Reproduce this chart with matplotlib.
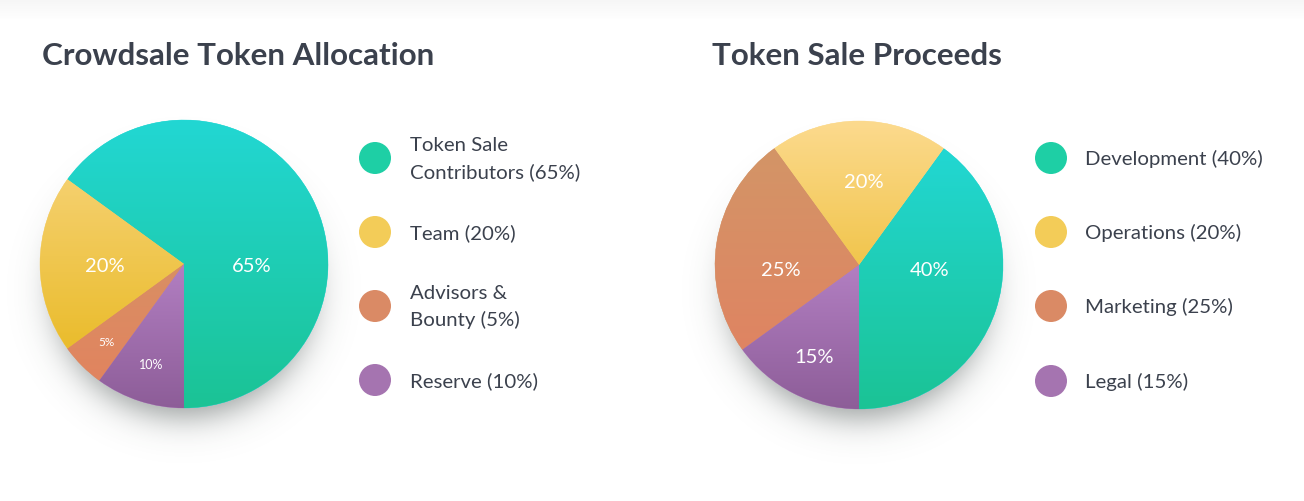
import matplotlib.pyplot as plt
import numpy as np
from matplotlib.colors import to_rgb
from matplotlib.patches import Circle

W, H = 1304, 502
TEXT = "#3b414d"
plt.rcParams["font.family"] = ["Lato", "DejaVu Sans"]

# data
alloc_title = "Crowdsale Token Allocation"
alloc_labels = ["Token Sale\nContributors", "Team", "Advisors &\nBounty", "Reserve"]
alloc_share = [65, 20, 5, 10]

proceeds_title = "Token Sale Proceeds"
proceeds_labels = ["Development", "Operations", "Marketing", "Legal"]
proceeds_share = [40, 20, 25, 15]

# styles: (top, bottom) gradient for each wedge, legend dot colours
LEGEND_COLORS = ["#1ecfa5", "#f3cc58", "#da8a65", "#a574b0"]
alloc_grad = [("#22d7d3", "#1bc395"), ("#f5d06e", "#eabc2c"),
              ("#d98f64", "#e1845f"), ("#b27fc2", "#8d5d98")]
proceeds_grad = [("#22d7d3", "#1bc395"), ("#fcda8e", "#f1c54c"),
                 ("#d39567", "#df8462"), ("#b27fc2", "#8d5d98")]
alloc_pct_pos = [(0.47, 0.0), (-0.55, 0.0), (-0.54, -0.53), (-0.23, -0.69)]
alloc_pct_size = [14.5, 14.5, 8.5, 9]
proceeds_pct_pos = [(0.49, -0.02), (0.03, 0.59), (-0.54, -0.02), (-0.31, -0.625)]
proceeds_pct_size = [14.5, 14.5, 14.5, 14.5]


def shadow(ax):
    g = np.linspace(-1.4, 1.4, 400)
    xx, yy = np.meshgrid(g, g)
    d = np.hypot(xx / 0.97, (yy + 0.18) / 0.95)
    a = 0.5 / (1 + np.exp((d - 0.93) / 0.07))
    img = np.zeros((400, 400, 4))
    img[..., :3] = to_rgb("#37413f")
    img[..., 3] = a
    ax.imshow(img, extent=[-1.4, 1.4, -1.4, 1.4], origin="lower", zorder=0)


def draw_pie(cx, cy, R, values, grads, pct_pos, pct_size):
    ax = fig.add_axes([(cx - 1.4 * R) / W, (H - cy - 1.4 * R) / H, 2.8 * R / W, 2.8 * R / H])
    wedges, _ = ax.pie(values, startangle=-90, counterclock=True, radius=1,
                       wedgeprops=dict(linewidth=0))
    ax.axis("off")
    shadow(ax)
    for w, (top, bot) in zip(wedges, grads):
        t = np.radians(np.linspace(w.theta1, w.theta2, 100))
        ys = np.concatenate([[0], np.sin(t)])
        y0, y1 = ys.min(), ys.max()
        c0, c1 = np.array(to_rgb(bot)), np.array(to_rgb(top))
        f = np.linspace(0, 1, 256)[:, None]
        grad = (c0 + (c1 - c0) * f)[:, None, :].repeat(2, axis=1)
        w.set_facecolor(top)
        w.set_edgecolor(top)
        w.set_linewidth(0.3)
        w.set_zorder(1)
        im = ax.imshow(grad, extent=[-1, 1, y0, y1], origin="lower", aspect="auto", zorder=2)
        im.set_clip_path(w)
    ax.set_xlim(-1.4, 1.4)
    ax.set_ylim(-1.4, 1.4)
    for v, (px, py), fs in zip(values, pct_pos, pct_size):
        ax.text(px, py, f"{v}%", color="white", fontsize=fs, ha="center",
                va="center_baseline", zorder=3)
    return ax


def legend(x_dot, x_txt, ys, labels, values):
    for y, lab, v, c in zip(ys, labels, values, LEGEND_COLORS):
        bg.add_patch(Circle((x_dot, y), 16, color=c, lw=0))
        bg.text(x_txt, y, f"{lab} ({v}%)", color=TEXT, fontsize=14.7,
                va="center", ha="left", linespacing=1.62)


fig = plt.figure(figsize=(W / 100, H / 100), dpi=100)
bg = fig.add_axes([0, 0, 1, 1])

# faint top shade
top = np.zeros((30, 2, 4))
top[..., :3] = 0.5
top[..., 3] = np.linspace(0.07, 0, 30)[:, None]
bg.imshow(top, extent=[0, W, 22, 0], aspect="auto", zorder=0)
bg.set_xlim(0, W)
bg.set_ylim(H, 0)
bg.axis("off")

bg.text(42, 65, alloc_title, color=TEXT, fontsize=22.6, fontweight="bold", va="baseline")
bg.text(712, 65, proceeds_title, color=TEXT, fontsize=22.6, fontweight="bold", va="baseline")

legend(375, 410, [159, 233, 307, 381], alloc_labels, alloc_share)
legend(1051, 1085, [159, 233, 307, 382], proceeds_labels, proceeds_share)

draw_pie(184, 265, 144, alloc_share, alloc_grad, alloc_pct_pos, alloc_pct_size)
draw_pie(859, 266, 144, proceeds_share, proceeds_grad, proceeds_pct_pos, proceeds_pct_size)

fig.savefig("out.png", dpi=100, facecolor="white")
